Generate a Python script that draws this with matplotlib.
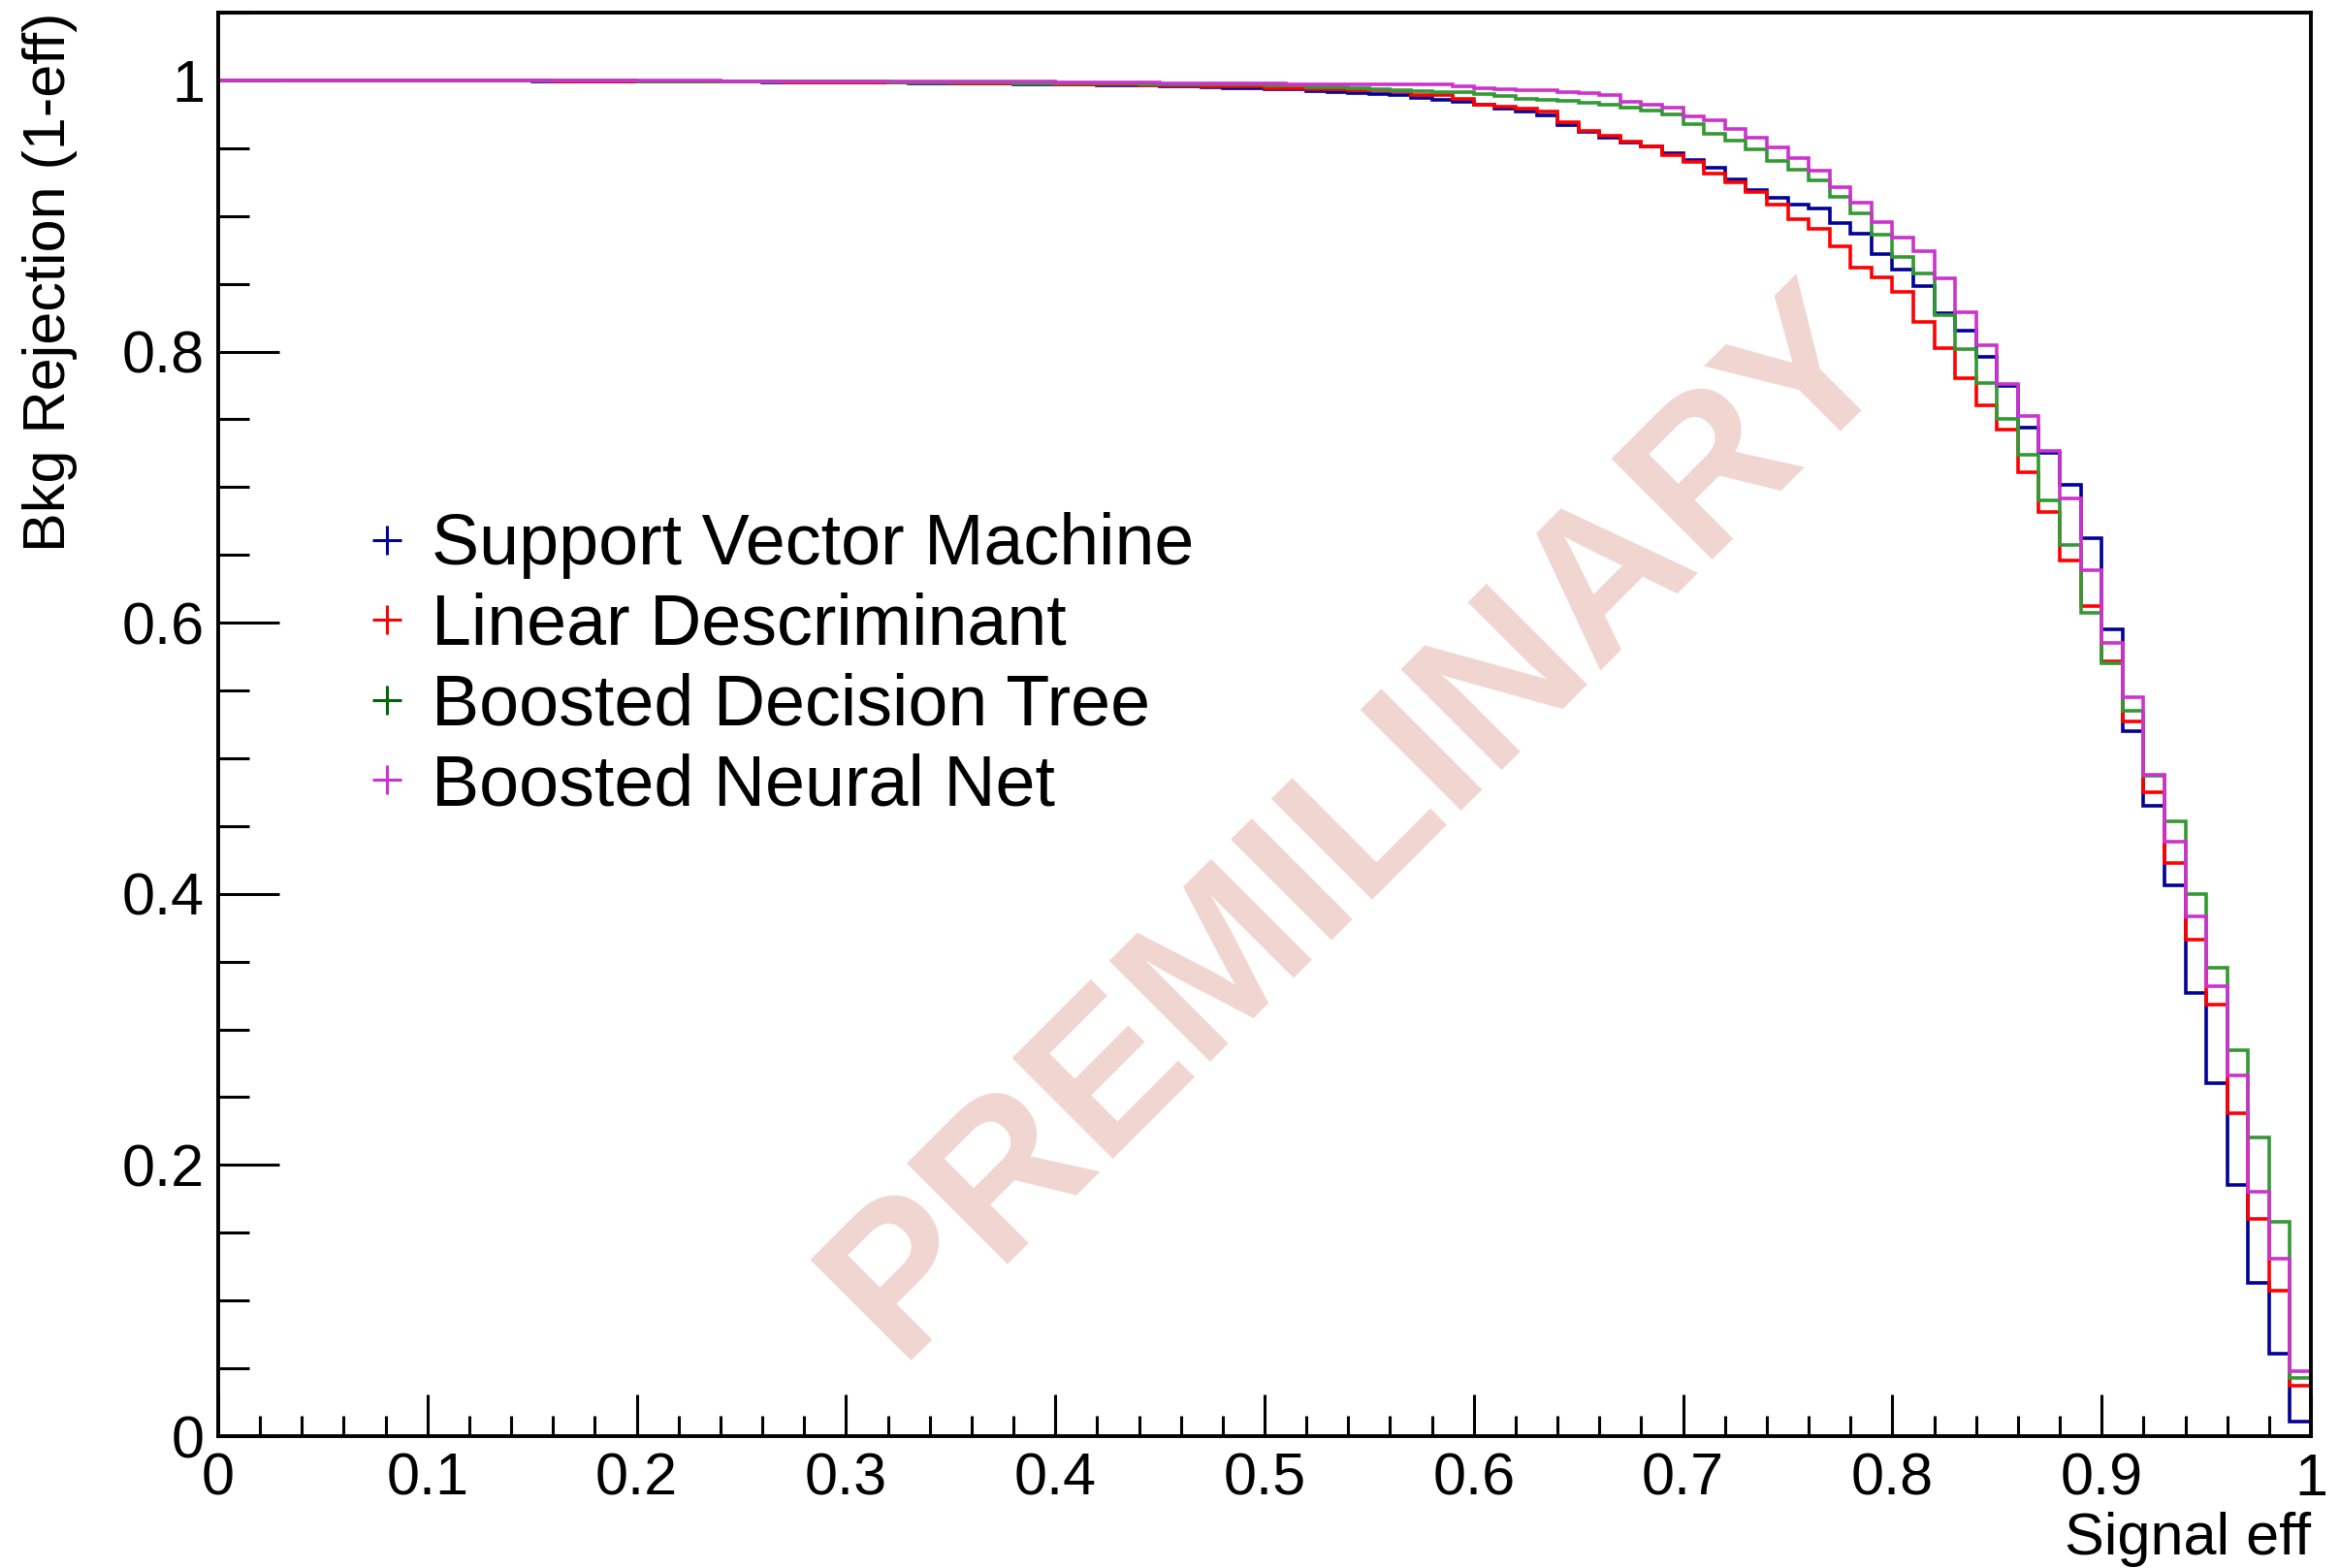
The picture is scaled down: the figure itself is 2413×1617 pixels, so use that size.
import numpy as np
import matplotlib
matplotlib.use('Agg')
import matplotlib.pyplot as plt
from matplotlib.lines import Line2D
from matplotlib.ticker import MultipleLocator, FuncFormatter

plt.rcParams['font.family'] = ['Liberation Sans', 'DejaVu Sans']

# 100 bins of signal efficiency, 0 -> 1
bin_edges = np.linspace(0.0, 1.0, 101)

svm = [
    1.0000, 1.0000, 1.0000, 0.9999, 0.9999, 0.9999, 0.9999, 0.9998, 0.9998, 0.9998,
    0.9997, 0.9997, 0.9997, 0.9996, 0.9996, 0.9995, 0.9995, 0.9994, 0.9994, 0.9993,
    0.9992, 0.9992, 0.9991, 0.9990, 0.9990, 0.9989, 0.9988, 0.9987, 0.9986, 0.9985,
    0.9984, 0.9983, 0.9982, 0.9981, 0.9980, 0.9979, 0.9977, 0.9976, 0.9974, 0.9972,
    0.9970, 0.9968, 0.9967, 0.9967, 0.9966, 0.9957, 0.9955, 0.9950, 0.9945, 0.9943,
    0.9938, 0.9933, 0.9924, 0.9917, 0.9907, 0.9900, 0.9890, 0.9871, 0.9855, 0.9845,
    0.9819, 0.9790, 0.9771, 0.9742, 0.9671, 0.9621, 0.9580, 0.9540, 0.9516, 0.9461,
    0.9413, 0.9354, 0.9270, 0.9192, 0.9134, 0.9087, 0.9052, 0.8945, 0.8868, 0.8721,
    0.8605, 0.8484, 0.8280, 0.8157, 0.7960, 0.7745, 0.7440, 0.7256, 0.7017, 0.6624,
    0.5949, 0.5200, 0.4652, 0.4060, 0.3267, 0.2600, 0.1855, 0.1128, 0.0607, 0.0105,
]

lda = [
    1.0000, 1.0000, 1.0000, 1.0000, 0.9999, 0.9999, 0.9999, 0.9998, 0.9998, 0.9998,
    0.9998, 0.9997, 0.9997, 0.9997, 0.9996, 0.9996, 0.9995, 0.9995, 0.9994, 0.9994,
    0.9993, 0.9993, 0.9992, 0.9991, 0.9991, 0.9990, 0.9989, 0.9988, 0.9988, 0.9987,
    0.9986, 0.9985, 0.9984, 0.9983, 0.9982, 0.9981, 0.9980, 0.9978, 0.9977, 0.9975,
    0.9972, 0.9970, 0.9970, 0.9968, 0.9965, 0.9962, 0.9960, 0.9955, 0.9955, 0.9955,
    0.9945, 0.9945, 0.9933, 0.9933, 0.9926, 0.9926, 0.9919, 0.9895, 0.9890, 0.9862,
    0.9824, 0.9807, 0.9790, 0.9771, 0.9695, 0.9628, 0.9592, 0.9549, 0.9514, 0.9449,
    0.9397, 0.9311, 0.9247, 0.9175, 0.9087, 0.8977, 0.8906, 0.8777, 0.8622, 0.8548,
    0.8443, 0.8221, 0.8024, 0.7804, 0.7602, 0.7423, 0.7108, 0.6815, 0.6461, 0.6123,
    0.5718, 0.5272, 0.4747, 0.4227, 0.3660, 0.3184, 0.2380, 0.1604, 0.1073, 0.0369,
]

bdt = [
    1.0000, 1.0000, 1.0000, 1.0000, 1.0000, 0.9999, 0.9999, 0.9999, 0.9999, 0.9999,
    0.9998, 0.9998, 0.9998, 0.9998, 0.9997, 0.9997, 0.9997, 0.9996, 0.9996, 0.9996,
    0.9995, 0.9995, 0.9994, 0.9994, 0.9993, 0.9993, 0.9992, 0.9992, 0.9991, 0.9990,
    0.9990, 0.9989, 0.9988, 0.9987, 0.9986, 0.9985, 0.9984, 0.9983, 0.9981, 0.9980,
    0.9978, 0.9977, 0.9976, 0.9975, 0.9974, 0.9973, 0.9972, 0.9971, 0.9970, 0.9968,
    0.9965, 0.9960, 0.9952, 0.9950, 0.9940, 0.9936, 0.9931, 0.9922, 0.9914, 0.9910,
    0.9897, 0.9883, 0.9866, 0.9855, 0.9847, 0.9835, 0.9824, 0.9800, 0.9778, 0.9752,
    0.9676, 0.9609, 0.9557, 0.9490, 0.9406, 0.9342, 0.9263, 0.9144, 0.9016, 0.8865,
    0.8698, 0.8579, 0.8269, 0.8019, 0.7769, 0.7506, 0.7237, 0.6900, 0.6576, 0.6075,
    0.5698, 0.5348, 0.4870, 0.4533, 0.3999, 0.3457, 0.2845, 0.2200, 0.1580, 0.0431,
]

bnn = [
    1.0000, 1.0000, 1.0000, 1.0000, 1.0000, 1.0000, 0.9999, 0.9999, 0.9999, 0.9999,
    0.9999, 0.9999, 0.9998, 0.9998, 0.9998, 0.9998, 0.9998, 0.9997, 0.9997, 0.9997,
    0.9997, 0.9996, 0.9996, 0.9996, 0.9995, 0.9995, 0.9995, 0.9994, 0.9994, 0.9993,
    0.9993, 0.9993, 0.9992, 0.9992, 0.9991, 0.9991, 0.9990, 0.9990, 0.9989, 0.9989,
    0.9988, 0.9987, 0.9986, 0.9986, 0.9986, 0.9980, 0.9979, 0.9979, 0.9978, 0.9978,
    0.9975, 0.9974, 0.9974, 0.9973, 0.9972, 0.9970, 0.9970, 0.9969, 0.9968, 0.9955,
    0.9945, 0.9938, 0.9931, 0.9926, 0.9914, 0.9907, 0.9890, 0.9843, 0.9824, 0.9802,
    0.9735, 0.9704, 0.9645, 0.9580, 0.9509, 0.9425, 0.9335, 0.9216, 0.9097, 0.8956,
    0.8841, 0.8739, 0.8543, 0.8293, 0.8047, 0.7757, 0.7523, 0.7268, 0.6917, 0.6385,
    0.5853, 0.5450, 0.4878, 0.4387, 0.3834, 0.3320, 0.2662, 0.1805, 0.1309, 0.0476,
]

labels = ['Support Vector Machine', 'Linear Descriminant',
          'Boosted Decision Tree', 'Boosted Neural Net']
line_colors = ['#000099', '#ff0000', '#339933', '#cc33cc']
marker_colors = ['#000099', '#ff0000', '#006600', '#cc33cc']


fig = plt.figure(figsize=(24.13, 16.17), dpi=100)
ax = fig.add_axes([225 / 2413, 1 - 1481 / 1617, 2158 / 2413, 1468 / 1617])

# watermark behind the curves
ax.text(0.545, 0.452, 'PREMILINARY', color='#f0d5d0', fontsize=153,
        fontweight='bold', rotation=45, rotation_mode='anchor',
        ha='center', va='center', zorder=1)

for vals, col in zip([svm, lda, bdt, bnn], line_colors):
    ax.stairs(vals, bin_edges, baseline=None, color=col, linewidth=2.6, zorder=3)

ax.set_xlim(0, 1)
ax.set_ylim(0, 1.05)

fmt = FuncFormatter(lambda v, p: '%g' % round(v, 2))
ax.xaxis.set_major_locator(MultipleLocator(0.1))
ax.xaxis.set_minor_locator(MultipleLocator(0.02))
ax.yaxis.set_major_locator(MultipleLocator(0.2))
ax.yaxis.set_minor_locator(MultipleLocator(0.05))
ax.xaxis.set_major_formatter(fmt)
ax.yaxis.set_major_formatter(fmt)

ax.tick_params(axis='both', which='both', direction='in', width=2.2,
               labelsize=44, top=False, right=False)
ax.tick_params(axis='x', which='major', length=31, pad=12)
ax.tick_params(axis='x', which='minor', length=15)
ax.tick_params(axis='y', which='major', length=45, pad=10)
ax.tick_params(axis='y', which='minor', length=23)

for sp in ax.spines.values():
    sp.set_linewidth(2.8)
    sp.set_zorder(5)

ax.set_xlabel('Signal eff', fontsize=44, loc='right')
ax.xaxis.set_label_coords(1.0, -0.053)
ax.set_ylabel('Bkg Rejection (1-eff)', fontsize=44, loc='top')
ax.yaxis.set_label_coords(-0.067, 1.0)

handles = [Line2D([], [], linestyle='none', marker='+', markersize=22,
                  markeredgewidth=2.2, color=c) for c in marker_colors]
ax.legend(handles, labels, loc='upper left', bbox_to_anchor=(0.072, 0.649),
          frameon=False, fontsize=53, handlelength=0.5, handletextpad=0.38,
          labelspacing=0.185, borderpad=0, borderaxespad=0)

fig.savefig('out.png', dpi=100)
